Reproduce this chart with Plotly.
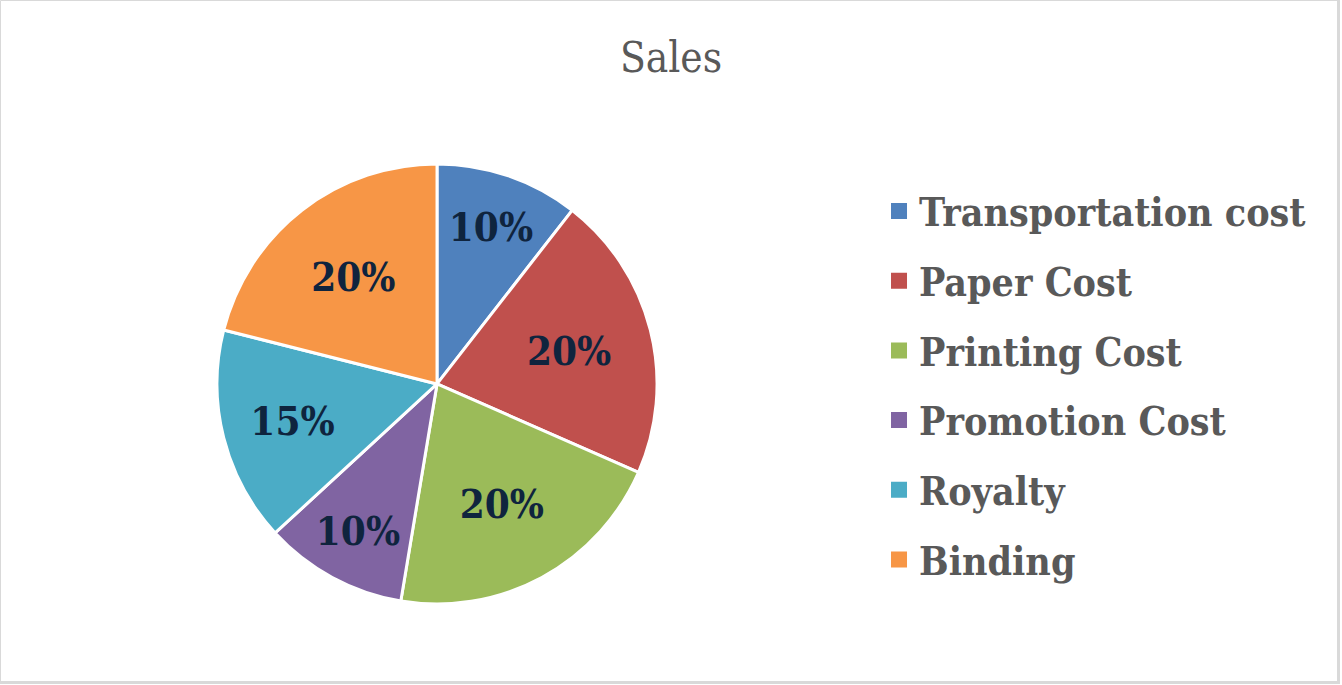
import plotly.graph_objects as go

labels = ["Transportation cost", "Paper Cost", "Printing Cost", "Promotion Cost", "Royalty", "Binding"]
values = [10, 20, 20, 10, 15, 20]
colors = ["#4F81BD", "#C0504D", "#9BBB59", "#8064A2", "#4BACC6", "#F79646"]
title_text = "Sales"

SERIF = "DejaVu Serif Condensed, DejaVu Serif, Liberation Serif, serif"
W, H = 1342, 685

fig = go.Figure()
fig.add_trace(go.Pie(
    labels=labels, values=values, sort=False, direction="clockwise", rotation=0,
    marker=dict(colors=colors, line=dict(color="white", width=3)),
    texttemplate="%{value}%", textposition="inside", insidetextorientation="horizontal",
    textfont=dict(family=SERIF, size=40, color="#0F243E", weight="bold"),
    domain=dict(x=[0.1617, 0.4896], y=[0.118, 0.761]),
    showlegend=False, hoverinfo="label+value",
))
for i, (lab, col) in enumerate(zip(labels, colors)):
    fig.add_trace(go.Scatter(
        x=[None], y=[None], mode="markers", name=lab, legendgroup=f"g{i}",
        marker=dict(symbol="square", size=17, color=col), showlegend=True,
    ))

fig.update_layout(
    width=W, height=H, autosize=False,
    margin=dict(l=0, r=0, t=0, b=0),
    paper_bgcolor="white", plot_bgcolor="white",
    xaxis=dict(visible=False), yaxis=dict(visible=False),
    title=dict(text=title_text, x=0.5, xanchor="center", y=0.917, yanchor="middle",
               font=dict(family=SERIF, size=42, color="#595959")),
    legend=dict(x=0.655, y=0.437, xanchor="left", yanchor="middle", traceorder="grouped",
                tracegroupgap=16, itemsizing="trace",
                font=dict(family=SERIF, size=39, color="#595959", weight="bold")),
    shapes=[
        dict(type="rect", xref="paper", yref="paper", x0=0.5 / W, y0=1 - 682 / H, x1=1338 / W, y1=1 - 0.5 / H,
             line=dict(color="#D9D9D9", width=1), fillcolor="rgba(0,0,0,0)"),
        dict(type="line", xref="paper", yref="paper", x0=1338.5 / W, x1=1338.5 / W, y0=1 - 684 / H, y1=1,
             line=dict(color="#D9D9D9", width=3)),
        dict(type="line", xref="paper", yref="paper", x0=0, x1=1340 / W, y0=1 - 682.5 / H, y1=1 - 682.5 / H,
             line=dict(color="#D9D9D9", width=3)),
    ],
)
fig.write_html("out.html", config={"displayModeBar": False},
               post_script="document.body.style.margin='0';document.body.style.overflow='hidden';")
